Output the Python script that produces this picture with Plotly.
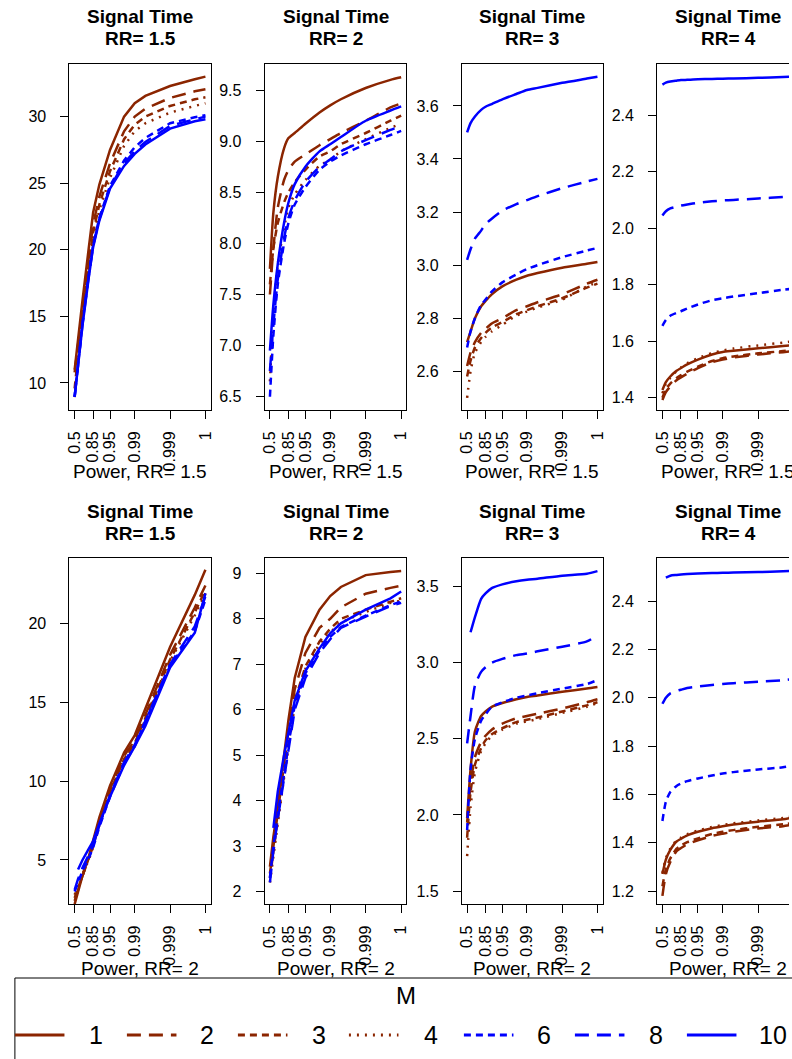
import math
import plotly.graph_objects as go

# ---------------- data ----------------
power = [0.5, 0.6, 0.7, 0.8, 0.85, 0.9, 0.95, 0.98, 0.99, 0.995, 0.999, 0.9998, 0.9999]
tick_power = [0.5, 0.85, 0.95, 0.99, 0.999, 0.9999]   # "1" is drawn at 0.9999
tick_labels = ["0.5", "0.85", "0.95", "0.99", "0.999", "1"]
m_levels = ["1", "2", "3", "4", "6", "8", "10"]

rr_titles = ["RR= 1.5", "RR= 2", "RR= 3", "RR= 4"]
power_rr = ["1.5", "2"]

# Row 1: power computed at RR=1.5
r1_rr15 = {
    "1":  [11.0, 13.4, 16.2, 20.1, 22.8, 24.9, 27.5, 30.0, 31.0, 31.55, 32.3, 32.8, 33.0],
    "2":  [10.8, 13.0, 15.7, 19.4, 21.9, 24.0, 26.5, 28.9, 30.0, 30.6, 31.4, 31.9, 32.05],
    "3":  [9.6, 12.3, 15.2, 18.9, 21.3, 23.4, 25.9, 28.3, 29.4, 30.0, 30.8, 31.3, 31.45],
    "4":  [8.93, 11.8, 14.8, 18.5, 20.9, 23.0, 25.4, 27.8, 28.9, 29.5, 30.3, 30.8, 31.0],
    "6":  [9.0, 11.6, 14.5, 18.1, 20.4, 22.4, 24.8, 26.7, 27.7, 28.4, 29.5, 29.95, 30.1],
    "8":  [8.95, 11.5, 14.4, 18.0, 20.3, 22.3, 24.7, 26.5, 27.4, 28.1, 29.3, 29.8, 30.0],
    "10": [8.95, 11.4, 14.3, 17.9, 20.2, 22.2, 24.6, 26.3, 27.2, 27.9, 29.1, 29.65, 29.8],
}
r1_rr2 = {
    "1":  [7.75, 8.3, 8.65, 8.93, 9.03, 9.08, 9.17, 9.28, 9.35, 9.41, 9.52, 9.6, 9.625],
    "2":  [7.5, 7.95, 8.35, 8.62, 8.72, 8.8, 8.87, 8.96, 9.02, 9.08, 9.2, 9.33, 9.37],
    "3":  [7.6, 7.95, 8.2, 8.4, 8.5, 8.6, 8.72, 8.85, 8.9, 8.97, 9.08, 9.2, 9.25],
    "4":  [6.65, 7.3, 7.8, 8.15, 8.35, 8.48, 8.62, 8.76, 8.82, 8.9, 9.02, 9.13, 9.17],
    "6":  [6.5, 7.1, 7.6, 8.0, 8.2, 8.38, 8.55, 8.72, 8.8, 8.86, 8.97, 9.06, 9.1],
    "8":  [6.75, 7.2, 7.65, 8.05, 8.25, 8.42, 8.6, 8.75, 8.82, 8.9, 9.01, 9.11, 9.15],
    "10": [6.95, 7.4, 7.8, 8.2, 8.4, 8.58, 8.75, 8.9, 8.97, 9.04, 9.2, 9.3, 9.34],
}
r1_rr3 = {
    "1":  [2.71, 2.75, 2.8, 2.845, 2.865, 2.89, 2.92, 2.945, 2.96, 2.97, 2.99, 3.005, 3.012],
    "2":  [2.62, 2.67, 2.71, 2.745, 2.76, 2.78, 2.80, 2.83, 2.845, 2.86, 2.89, 2.93, 2.945],
    "3":  [2.58, 2.64, 2.69, 2.725, 2.745, 2.765, 2.785, 2.815, 2.83, 2.845, 2.875, 2.915, 2.93],
    "4":  [2.50, 2.6, 2.67, 2.71, 2.73, 2.75, 2.775, 2.81, 2.825, 2.84, 2.87, 2.92, 2.935],
    "6":  [2.69, 2.75, 2.8, 2.85, 2.87, 2.9, 2.935, 2.965, 2.985, 3.0, 3.03, 3.055, 3.065],
    "8":  [3.02, 3.06, 3.1, 3.13, 3.155, 3.175, 3.205, 3.23, 3.245, 3.26, 3.29, 3.315, 3.325],
    "10": [3.50, 3.535, 3.56, 3.585, 3.597, 3.607, 3.625, 3.645, 3.66, 3.668, 3.687, 3.703, 3.71],
}
r1_rr4 = {
    "1":  [1.427, 1.455, 1.475, 1.495, 1.505, 1.518, 1.535, 1.553, 1.562, 1.566, 1.575, 1.583, 1.586],
    "2":  [1.392, 1.42, 1.44, 1.462, 1.472, 1.485, 1.505, 1.526, 1.535, 1.542, 1.553, 1.561, 1.565],
    "3":  [1.40, 1.43, 1.45, 1.47, 1.48, 1.492, 1.51, 1.53, 1.54, 1.546, 1.557, 1.565, 1.569],
    "4":  [1.415, 1.45, 1.47, 1.495, 1.507, 1.522, 1.54, 1.558, 1.567, 1.574, 1.585, 1.595, 1.6],
    "6":  [1.654, 1.675, 1.69, 1.70, 1.706, 1.716, 1.73, 1.745, 1.752, 1.758, 1.77, 1.782, 1.786],
    "8":  [2.045, 2.06, 2.07, 2.076, 2.08, 2.084, 2.09, 2.095, 2.098, 2.1, 2.105, 2.11, 2.112],
    "10": [2.508, 2.515, 2.519, 2.522, 2.524, 2.525, 2.527, 2.528, 2.529, 2.530, 2.532, 2.535, 2.536],
}
# Row 2: power computed at RR=2
r2_rr15 = {
    "1":  [2.2, 3.0, 4.0, 5.2, 6.2, 7.7, 9.7, 11.8, 12.9, 14.6, 18.5, 21.8, 23.4],
    "2":  [2.4, 3.1, 4.0, 5.1, 6.0, 7.5, 9.5, 11.6, 12.6, 14.2, 18.0, 21.0, 22.4],
    "3":  [2.6, 3.2, 4.0, 5.0, 5.9, 7.3, 9.3, 11.4, 12.4, 14.0, 17.7, 20.7, 22.1],
    "4":  [2.8, 3.3, 4.1, 5.0, 5.8, 7.2, 9.2, 11.3, 12.3, 13.9, 17.6, 20.5, 21.9],
    "6":  [3.0, 3.6, 4.3, 5.1, 5.8, 7.1, 9.0, 11.1, 12.2, 13.8, 17.3, 19.5, 21.5],
    "8":  [3.1, 3.8, 4.5, 5.3, 5.9, 7.2, 9.1, 11.2, 12.3, 13.8, 17.4, 19.8, 21.7],
    "10": [None, 4.4, 5.0, 5.7, 6.2, 7.3, 9.0, 11.0, 12.2, 13.5, 17.2, 19.4, 21.9],
}
r2_rr2 = {
    "1":  [2.55, 3.2, 3.87, 5.0, 5.78, 6.7, 7.6, 8.2, 8.5, 8.7, 8.96, 9.03, 9.05],
    "2":  [2.4, 3.0, 3.7, 4.8, 5.55, 6.45, 7.25, 7.8, 8.0, 8.25, 8.55, 8.68, 8.73],
    "3":  [2.3, 2.9, 3.6, 4.6, 5.3, 6.2, 6.95, 7.5, 7.78, 8.0, 8.2, 8.38, 8.45],
    "4":  [2.2, 2.8, 3.5, 4.5, 5.2, 6.1, 6.9, 7.45, 7.7, 7.92, 8.15, 8.35, 8.4],
    "6":  [2.3, 3.0, 3.7, 4.6, 5.3, 6.1, 6.8, 7.3, 7.6, 7.82, 8.07, 8.3, 8.38],
    "8":  [2.2, 2.9, 3.6, 4.5, 5.2, 6.0, 6.7, 7.25, 7.55, 7.8, 8.05, 8.28, 8.35],
    "10": [None, 3.4, 4.2, 5.0, 5.5, 6.2, 6.85, 7.35, 7.68, 7.9, 8.2, 8.45, 8.6],
}
r2_rr3 = {
    "1":  [1.98, 2.3, 2.55, 2.65, 2.68, 2.71, 2.735, 2.76, 2.775, 2.785, 2.81, 2.83, 2.84],
    "2":  [1.95, 2.2, 2.38, 2.48, 2.52, 2.56, 2.6, 2.635, 2.65, 2.665, 2.7, 2.74, 2.76],
    "3":  [1.85, 2.15, 2.33, 2.44, 2.49, 2.53, 2.57, 2.61, 2.625, 2.64, 2.68, 2.72, 2.74],
    "4":  [1.73, 2.05, 2.28, 2.42, 2.47, 2.52, 2.56, 2.6, 2.615, 2.63, 2.67, 2.71, 2.735],
    "6":  [1.9, 2.3, 2.5, 2.62, 2.66, 2.71, 2.74, 2.77, 2.785, 2.8, 2.83, 2.86, 2.886],
    "8":  [2.47, 2.65, 2.85, 2.94, 2.97, 3.0, 3.025, 3.05, 3.06, 3.075, 3.105, 3.14, 3.18],
    "10": [None, 3.2, 3.3, 3.42, 3.455, 3.49, 3.515, 3.535, 3.545, 3.552, 3.572, 3.585, 3.602],
}
r2_rr4 = {
    "1":  [1.27, 1.33, 1.37, 1.405, 1.416, 1.43, 1.445, 1.46, 1.468, 1.475, 1.487, 1.497, 1.505],
    "2":  [1.18, 1.27, 1.32, 1.365, 1.378, 1.393, 1.41, 1.428, 1.437, 1.445, 1.459, 1.468, 1.475],
    "3":  [1.22, 1.29, 1.335, 1.375, 1.388, 1.402, 1.418, 1.436, 1.445, 1.452, 1.466, 1.476, 1.482],
    "4":  [1.275, 1.335, 1.375, 1.41, 1.421, 1.435, 1.45, 1.465, 1.473, 1.48, 1.492, 1.502, 1.51],
    "6":  [1.49, 1.57, 1.61, 1.635, 1.645, 1.655, 1.666, 1.678, 1.686, 1.692, 1.703, 1.712, 1.72],
    "8":  [1.975, 2.0, 2.018, 2.028, 2.033, 2.04, 2.046, 2.053, 2.057, 2.06, 2.066, 2.072, 2.078],
    "10": [None, 2.497, 2.505, 2.508, 2.51, 2.512, 2.514, 2.516, 2.517, 2.518, 2.52, 2.523, 2.525],
}

panels = [r1_rr15, r1_rr2, r1_rr3, r1_rr4, r2_rr15, r2_rr2, r2_rr3, r2_rr4]

# ---------------- styles ----------------
BROWN = "#8B2500"
BLUE = "#0000FF"
m_color = {"1": BROWN, "2": BROWN, "3": BROWN, "4": BROWN, "6": BLUE, "8": BLUE, "10": BLUE}
m_dash = {"1": "solid", "2": "14px,8px", "3": "7px,5px", "4": "2px,6px",
          "6": "7px,5px", "8": "14px,8px", "10": "solid"}
smooth_panel = [False, True, True, True, False, False, True, True]

y_ranges = [[7.97, 33.95], [6.37, 9.755], [2.454, 3.758], [1.3565, 2.581],
            [2.19, 24.12], [1.72, 9.33], [1.413, 3.686], [1.145, 2.577]]
y_ticks = [(10, 5, ""), (6.5, 0.5, ".1f"), (2.6, 0.2, ".1f"), (1.4, 0.2, ".1f"),
           (5, 5, ""), (2, 1, ""), (1.5, 0.5, ".1f"), (1.2, 0.2, ".1f")]

W, H = 792, 1059
col_left = [66, 263, 462, 659]
col_right = [208.5, 406, 604, 802]
row_top = [64, 558.3]
row_bot = [410, 904.3]
title_y1 = [17, 511]
title_y2 = [39, 533]
xlab_y = [472, 968]
FONT = "Liberation Sans, Arial, Helvetica, sans-serif"

# x positions in -log10(1-p) with R-style 4% padding
t_lo = -math.log10(1 - power[0])
t_hi = -math.log10(1 - power[-1])
pad = 0.04 * (t_hi - t_lo)
t_min, t_max = t_lo - pad, t_hi + pad

xs = [1 - p for p in power]

fig = go.Figure()
layout = dict(
    width=W, height=H, margin=dict(l=0, r=0, t=0, b=0),
    paper_bgcolor="white", plot_bgcolor="white", showlegend=False,
    font=dict(family=FONT, color="black"),
)
annotations = []
shapes = []

for i, data in enumerate(panels):
    r, c = divmod(i, 4)
    k = i + 1
    xa = "x" if k == 1 else f"x{k}"
    ya = "y" if k == 1 else f"y{k}"
    for m in m_levels:
        line = dict(color=m_color[m], width=2.5, dash=m_dash[m])
        if smooth_panel[i]:
            line.update(shape="spline", smoothing=0.6)
        fig.add_trace(go.Scatter(
            x=xs, y=data[m], mode="lines", xaxis=xa, yaxis=ya, line=line,
            connectgaps=False, showlegend=False, hoverinfo="skip",
        ))
    left, right = col_left[c], col_right[c]
    d_right = min(right, W)
    frac = (d_right - left) / (right - left)
    t_end = t_min + frac * (t_max - t_min)
    layout[f"xaxis{k}"] = dict(
        domain=[left / W, d_right / W], anchor=ya, type="log",
        range=[-t_min, -t_end], autorange=False,
        tickmode="array", tickvals=[1 - p for p in tick_power], ticktext=tick_labels,
        tickangle=-90, ticks="outside", ticklen=8, tickwidth=1, tickcolor="black",
        showline=True, linecolor="black", linewidth=1, mirror=True,
        showgrid=False, zeroline=False, tickfont=dict(size=16, family=FONT),
        ticklabelstandoff=6,
    )
    t0, dt, fmt = y_ticks[i]
    layout[f"yaxis{k}"] = dict(
        domain=[1 - row_bot[r] / H, 1 - row_top[r] / H], anchor=xa,
        range=y_ranges[i], autorange=False, tick0=t0, dtick=dt, tickformat=fmt,
        ticks="outside", ticklen=8, tickwidth=1, tickcolor="black",
        showline=True, linecolor="black", linewidth=1, mirror=(c < 3),
        showgrid=False, zeroline=False, tickfont=dict(size=16, family=FONT),
        ticklabelstandoff=11,
    )
    cx = (left + right) / 2 / W
    annotations.append(dict(text="<b>Signal Time</b>", x=cx, y=1 - title_y1[r] / H,
                            xref="paper", yref="paper", showarrow=False,
                            xanchor="center", yanchor="middle", font=dict(size=19)))
    annotations.append(dict(text=f"<b>{rr_titles[c]}</b>", x=cx, y=1 - title_y2[r] / H,
                            xref="paper", yref="paper", showarrow=False,
                            xanchor="center", yanchor="middle", font=dict(size=19)))
    annotations.append(dict(text=f"Power, RR= {power_rr[r]}", x=cx, y=1 - xlab_y[r] / H,
                            xref="paper", yref="paper", showarrow=False,
                            xanchor="center", yanchor="middle", font=dict(size=19)))

# ---------------- legend (drawn as a key box) ----------------
leg_left, leg_top = 11, 978
shapes.append(dict(type="line", xref="paper", yref="paper",
                   x0=leg_left / W, x1=1.02, y0=1 - leg_top / H, y1=1 - leg_top / H,
                   line=dict(color="black", width=1)))
shapes.append(dict(type="line", xref="paper", yref="paper",
                   x0=leg_left / W, x1=leg_left / W, y0=1 - leg_top / H, y1=-0.02,
                   line=dict(color="black", width=1)))
annotations.append(dict(text="M", x=406 / W, y=1 - 995 / H, xref="paper", yref="paper",
                        showarrow=False, xanchor="center", yanchor="middle",
                        font=dict(size=24)))
seg_start = [11, 124, 236, 348, 464, 576, 689]
label_x = [93, 205, 318, 431, 545, 658, 760]
leg_y = 1 - 1035 / H
for j, m in enumerate(m_levels):
    shapes.append(dict(type="line", xref="paper", yref="paper",
                       x0=seg_start[j] / W, x1=(seg_start[j] + 50) / W, y0=leg_y, y1=leg_y,
                       line=dict(color=m_color[m], width=3, dash=m_dash[m])))
    annotations.append(dict(text=m, x=label_x[j] / W, y=leg_y, xref="paper", yref="paper",
                            showarrow=False, xanchor="center" if m != "10" else "left",
                            yanchor="middle", font=dict(size=25)))

layout["annotations"] = annotations
layout["shapes"] = shapes
fig.update_layout(**layout)
fig.write_html("out.html")
